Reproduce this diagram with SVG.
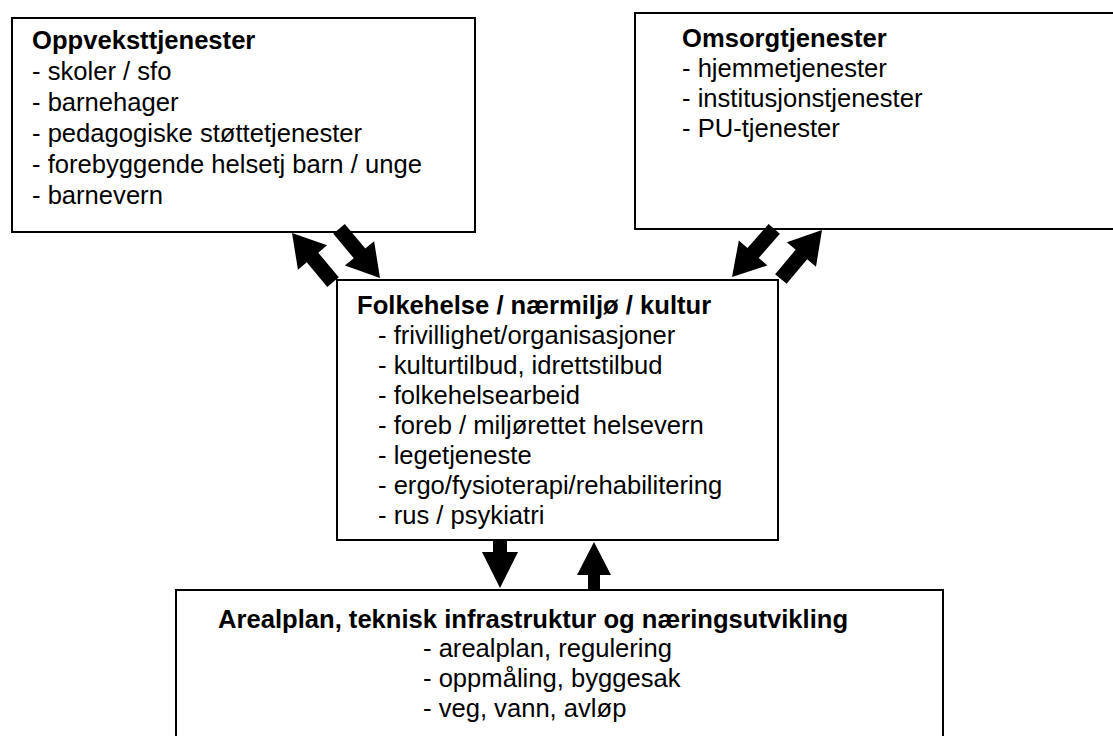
<svg xmlns="http://www.w3.org/2000/svg" width="1113" height="736" viewBox="0 0 1113 736">
<style>
.box{fill:#fff;stroke:#000;stroke-width:2}
.t{font-family:"Liberation Sans",Arial,sans-serif;font-size:25.6px;fill:#000}
.b{font-weight:bold}
.arr{fill:#000}
</style>
<defs>
<path id="diag" d="M0,0 L-32,-19 L-32,-7.5 L-64,-7.5 L-64,7.5 L-32,7.5 L-32,19 Z"/>
</defs>
<rect width="1113" height="736" fill="#fff"/>
<g id="oppvekst">
<rect class="box" x="12" y="18" width="463" height="214"/>
<text class="t b" x="32" y="49">Oppveksttjenester</text>
<text class="t" x="32" y="80">- skoler / sfo</text>
<text class="t" x="32" y="111">- barnehager</text>
<text class="t" x="32" y="142">- pedagogiske støttetjenester</text>
<text class="t" x="32" y="173">- forebyggende helsetj barn / unge</text>
<text class="t" x="32" y="204">- barnevern</text>
</g>
<g id="omsorg">
<rect class="box" x="635" y="13" width="490" height="216"/>
<text class="t b" x="682" y="47">Omsorgtjenester</text>
<text class="t" x="682" y="77">- hjemmetjenester</text>
<text class="t" x="682" y="107">- institusjonstjenester</text>
<text class="t" x="682" y="137">- PU-tjenester</text>
</g>
<g id="folkehelse">
<rect class="box" x="337" y="280" width="441" height="260"/>
<text class="t b" x="357" y="314">Folkehelse / nærmiljø / kultur</text>
<text class="t" x="378" y="344">- frivillighet/organisasjoner</text>
<text class="t" x="378" y="374">- kulturtilbud, idrettstilbud</text>
<text class="t" x="378" y="404">- folkehelsearbeid</text>
<text class="t" x="378" y="434">- foreb / miljørettet helsevern</text>
<text class="t" x="378" y="464">- legetjeneste</text>
<text class="t" x="378" y="494">- ergo/fysioterapi/rehabilitering</text>
<text class="t" x="378" y="524">- rus / psykiatri</text>
</g>
<g id="arealplan">
<rect class="box" x="176" y="590" width="767" height="160"/>
<text class="t b" x="218" y="628">Arealplan, teknisk infrastruktur og næringsutvikling</text>
<text class="t" x="423" y="657">- arealplan, regulering</text>
<text class="t" x="423" y="687">- oppmåling, byggesak</text>
<text class="t" x="423" y="717">- veg, vann, avløp</text>
</g>
<g id="connectors" class="arr">
<use href="#diag" transform="translate(292,233) rotate(-129.9)"/>
<use href="#diag" transform="translate(380,278) rotate(50.2)"/>
<use href="#diag" transform="translate(732,277) rotate(131.3)"/>
<use href="#diag" transform="translate(822,230) rotate(-50)"/>
<polygon points="493,541 507,541 507,552 518,552 500,588 482,552 493,552"/>
<polygon points="594,542 611,575 600,575 600,589 588,589 588,575 577,575"/>
</g>
</svg>
